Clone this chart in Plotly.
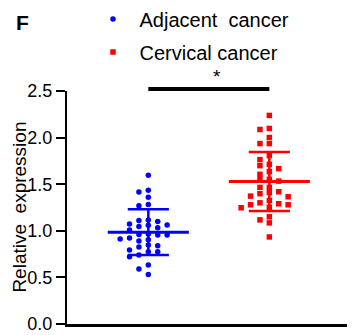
import numpy as np
import plotly.graph_objects as go

groups = ["Adjacent\u00a0\u00a0cancer", "Cervical cancer"]
colors = ["#0000FF", "#FF0000"]
symbols = ["circle", "square"]

adjacent = [1.595, 1.415, 1.436, 1.361, 1.282, 1.27, 1.074, 1.117, 1.11, 1.099,
            1.063, 1.059, 1.034, 1.045, 1.009, 0.955, 0.955, 0.966, 0.959, 0.923,
            0.891, 0.912, 0.905, 0.826, 0.848, 0.84, 0.794, 0.776, 0.776, 0.722,
            0.74, 0.632, 0.589, 0.53]
cervical = [2.238, 2.098, 2.087, 2.001, 1.936, 1.936, 1.807, 1.764, 1.713, 1.699,
            1.667, 1.635, 1.606, 1.549, 1.552, 1.533, 1.466, 1.466, 1.41, 1.398,
            1.419, 1.372, 1.365, 1.325, 1.3, 1.29, 1.279, 1.279, 1.247, 1.253,
            1.15, 1.117, 1.085, 0.934]
series = [adjacent, cervical]

ytick_vals = [0.0, 0.5, 1.0, 1.5, 2.0, 2.5]
ytick_text = ["0.0", "0.5", "1.0", "1.5", "2.0", "2.5"]
significance = "*"

FONT = "Arial, Liberation Sans, sans-serif"
SLOT = 0.0777
GAP = 0.055


def swarm(vals):
    order = np.argsort(vals)[::-1]
    placed = {}
    offs = np.zeros(len(vals))
    for i in order:
        v = vals[i]
        for s in [0, -1, 1, -2, 2, -3, 3, -4, 4]:
            if all(abs(v - w) >= GAP for w in placed.get(s, [])):
                placed.setdefault(s, []).append(v)
                offs[i] = s * SLOT
                break
    return offs


fig = go.Figure()
for gi, vals in enumerate(series):
    vals = np.array(vals)
    xs = gi + swarm(vals)
    fig.add_trace(go.Scatter(
        x=xs, y=vals, mode="markers", name=groups[gi],
        legendgroup=str(gi),
        marker=dict(color=colors[gi], symbol=symbols[gi], size=5.5, line=dict(width=0)),
    ))

for gi, vals in enumerate(series):
    m = float(np.mean(vals))
    sd = float(np.std(vals, ddof=1))
    fig.add_trace(go.Scatter(x=[gi - 0.335, gi + 0.335], y=[m, m], mode="lines",
                             line=dict(color=colors[gi], width=3), showlegend=False, hoverinfo="skip"))
    for yy in (m - sd, m + sd):
        fig.add_trace(go.Scatter(x=[gi - 0.17, gi + 0.17], y=[yy, yy], mode="lines",
                                 line=dict(color=colors[gi], width=2.5), showlegend=False, hoverinfo="skip"))
    fig.add_trace(go.Scatter(x=[gi, gi], y=[m - sd, m + sd], mode="lines",
                             line=dict(color=colors[gi], width=2.5), showlegend=False, hoverinfo="skip"))

fig.add_shape(type="line", xref="x", yref="paper", x0=0, x1=1, y0=1.009, y1=1.009,
              line=dict(color="black", width=4))
fig.add_annotation(x=0.57, xref="x", y=1.062, yref="paper", text=significance, showarrow=False,
                   font=dict(size=19, color="black", family=FONT), yanchor="middle")
fig.add_annotation(x=-0.186, xref="paper", y=1.293, yref="paper", text="<b>F</b>", showarrow=False,
                   font=dict(size=21, color="black", family=FONT), xanchor="left", yanchor="middle")
fig.add_annotation(x=-0.168, xref="paper", y=0.5, yref="paper",
                   text="Relative\u00a0\u00a0expression", textangle=-90, showarrow=False,
                   font=dict(size=19, color="black", family=FONT), xanchor="center", yanchor="middle")

# the page body adds an 8px margin, so the figure is 8px smaller than the window
fig.update_layout(
    width=347, height=327,
    margin=dict(l=59, r=3, t=83, b=11, autoexpand=False),
    paper_bgcolor="white", plot_bgcolor="white",
    font=dict(family=FONT, size=18, color="black"),
    showlegend=True,
    legend=dict(x=(86.5 - 67) / 285, xanchor="left", y=1.393, yanchor="top",
                font=dict(size=20, family=FONT), tracegroupgap=4, itemwidth=43,
                bgcolor="rgba(0,0,0,0)"),
    xaxis=dict(range=[-0.672, 1.683], showline=True, linecolor="black", linewidth=3,
               showticklabels=False, ticks="", showgrid=False, zeroline=False),
    yaxis=dict(range=[0, 2.5], showline=True, linecolor="black", linewidth=2,
               tickvals=ytick_vals, ticktext=ytick_text, ticks="outside", ticklen=9,
               tickwidth=2, tickcolor="black", showgrid=False, zeroline=False,
               tickfont=dict(size=18, family=FONT)),
)

fig.write_html("out.html")
